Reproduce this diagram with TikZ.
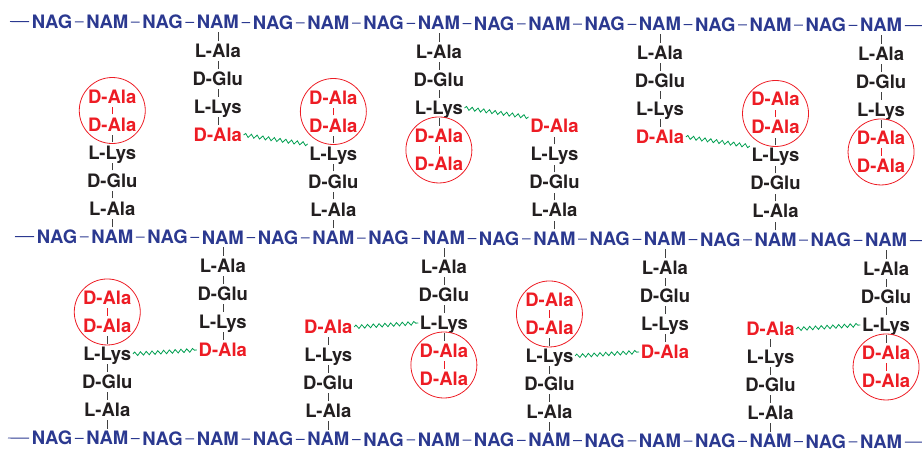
\documentclass[tikz,border=0pt]{standalone}
\usepackage{fontspec}
\setmainfont{TeX Gyre Heros}
\usetikzlibrary{decorations.pathmorphing}
\definecolor{sugarblue}{RGB}{43,57,144}
\definecolor{alared}{RGB}{237,28,36}
\definecolor{linkgreen}{RGB}{0,158,80}
\definecolor{aablack}{RGB}{35,31,32}
\tikzset{
  sugar/.style={text=sugarblue, font=\bfseries\fontsize{18.5}{20}\selectfont,
    text height=13pt, text depth=0pt, inner xsep=2.5pt, inner ysep=3pt},
  aa/.style={text=aablack, font=\bfseries\fontsize{18.5}{20}\selectfont,
    text height=13pt, text depth=0pt, inner xsep=1.5pt, inner ysep=3.5pt},
  dala/.style={aa, text=alared},
  ring/.style={circle, draw=alared, line width=0.8pt, minimum size=66pt, inner sep=0pt},
  backbone/.style={draw=sugarblue, line width=0.9pt},
  stem/.style={draw=black!75, line width=0.6pt},
  redstem/.style={draw=alared, line width=0.6pt},
  link/.style={draw=linkgreen, line width=0.8pt, decorate,
    decoration={snake, amplitude=1.8pt, segment length=5.8pt}},
}

\begin{document}
\begin{tikzpicture}[x=1pt, y=-1pt]
  \useasboundingbox (0,0) rectangle (922,452);
  \begin{scope}[yslant=-0.0045]
    % glycan strands
    \foreach \row/\xo/\yo/\xa in {1/52/21.5/10, 2/57/236.5/15, 3/52/438/8} {
      \foreach \col in {0,...,15}
        \node[sugar] (r\row-\col) at (\xo+55.27*\col,\yo) {\ifodd\col NAM\else NAG\fi};
      \foreach \col [remember=\col as \prev (initially 0)] in {1,...,15}
        \draw[backbone] (r\row-\prev) -- (r\row-\col);
      \coordinate (r\row-a) at (\xa,\yo);
      \coordinate (r\row-z) at (922,\yo);
      \draw[backbone] (r\row-a) -- (r\row-0);
      \draw[backbone] (r\row-15) -- (r\row-z);
    }
    % peptide stems
    \foreach \ch/\row/\col/\dir in {a/2/1/-1, b/1/3/1, c/2/5/-1, d/1/7/1,
        e/2/9/-1, f/1/11/1, g/2/13/-1, h/1/15/1, i/3/1/-1, j/2/3/1, k/3/5/-1,
        l/2/7/1, m/3/9/-1, n/2/11/1, o/3/13/-1, p/2/15/1} {
      \path (r\row-\col) ++(0,28.5*\dir) node[aa] (\ch1) {L-Ala}
        ++(0,28*\dir) node[aa] (\ch2) {D-Glu}
        ++(0,28*\dir) node[aa] (\ch3) {L-Lys}
        ++(0,28*\dir) node[dala] (\ch4) {D-Ala};
      \draw[stem] (r\row-\col) -- (\ch1) -- (\ch2) -- (\ch3) -- (\ch4);
    }
    % uncut D-Ala-D-Ala ends
    \foreach \ch/\dir in {a/-1, c/-1, d/1, g/-1, h/1, i/-1, l/1, m/-1, p/1} {
      \path (\ch4) ++(0,28*\dir) node[dala] (\ch5) {D-Ala};
      \path (\ch4) ++(0,14*\dir) node[ring] (\ch0) {};
      \draw[redstem] (\ch4) -- (\ch5);
    }
    % cross-links
    \foreach \from/\to in {b4.east/c3.160, d3.east/e4.160, f4.east/g3.160,
        i3.east/j4.west, k4.east/l3.west, m3.east/n4.west, o4.east/p3.west}
      \draw[link] (\from) -- (\to);
  \end{scope}
\end{tikzpicture}
\end{document}
